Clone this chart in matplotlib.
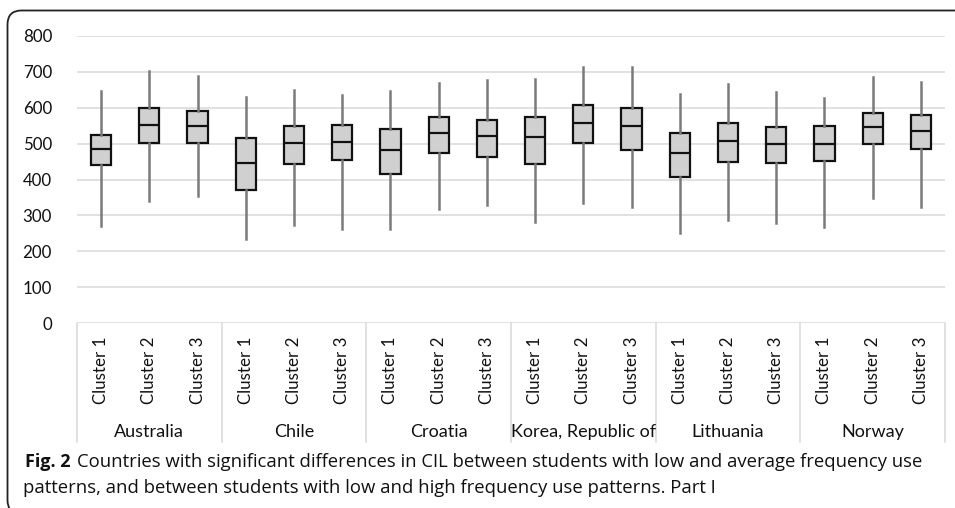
import matplotlib.pyplot as plt
import matplotlib.transforms as mtransforms
from matplotlib.patches import FancyBboxPatch
from matplotlib.lines import Line2D

countries = ['Australia', 'Chile', 'Croatia', 'Korea, Republic of', 'Lithuania', 'Norway']
clusters = ['Cluster 1', 'Cluster 2', 'Cluster 3']

# per box, in order Australia C1..C3, Chile C1..C3, ...
whisker_lo = [270, 341, 354, 235, 273, 263, 263, 319, 330, 282, 335, 324, 252, 288, 280, 268, 349, 324]
q1 = [441, 502, 503, 371, 444, 453, 415, 473, 463, 443, 501, 481, 407, 449, 446, 452, 499, 486]
median = [486, 553, 549, 446, 502, 505, 482, 530, 522, 518, 558, 550, 475, 508, 498, 500, 545, 536]
q3 = [525, 598, 592, 516, 549, 552, 542, 575, 567, 574, 608, 599, 530, 557, 546, 549, 586, 580]
whisker_hi = [647, 702, 688, 629, 649, 635, 646, 668, 676, 679, 713, 713, 637, 665, 643, 626, 685, 671]

W, H = 955, 508
fig = plt.figure(figsize=(W / 100, H / 100), dpi=100)
ax = fig.add_axes([77 / W, 1 - 323 / H, (945 - 77) / W, (323 - 36) / H])

stats = []
for i in range(len(q1)):
    stats.append({'whislo': whisker_lo[i], 'q1': q1[i], 'med': median[i],
                  'q3': q3[i], 'whishi': whisker_hi[i], 'fliers': []})

ax.bxp(stats, positions=range(len(stats)), widths=0.42, showcaps=False,
       patch_artist=True, showfliers=False,
       boxprops=dict(facecolor='#d0d0d0', edgecolor='#111111', linewidth=1.6),
       medianprops=dict(color='#111111', linewidth=1.6),
       whiskerprops=dict(color='#7a7a7a', linewidth=1.8))

ax.set_xlim(-0.5, len(stats) - 0.5)
ax.set_ylim(0, 800)
ax.set_yticks(range(0, 801, 100))
ax.yaxis.grid(True, color='#dcdcdc', linewidth=1.2)
ax.set_axisbelow(True)
ax.set_xticks([])
for s in ax.spines.values():
    s.set_visible(False)
ax.tick_params(axis='y', length=0, pad=18, labelsize=12.2, labelcolor='#111111')
for lab in ax.get_yticklabels():
    lab.set_fontfamily('Lato')

# category axis drawn by hand
trans = mtransforms.blended_transform_factory(ax.transData, fig.transFigure)
y_top = 1 - 323 / H
y_bot = 1 - 442 / H
for k in range(len(countries) + 1):
    xs = k * 3 - 0.5
    fig.add_artist(Line2D([xs, xs], [y_top, y_bot], transform=trans,
                          color='#dcdcdc', linewidth=1.2))

for i in range(len(stats)):
    fig.text(i, 1 - 337 / H, clusters[i % 3], transform=trans, rotation=90,
             ha='center', va='top', fontsize=12.2, family='Lato', color='#111111')

for k, c in enumerate(countries):
    fig.text(k * 3 + 1, 1 - 432 / H, c, transform=trans, ha='center', va='center',
             fontsize=13, family='Lato', color='#111111')

# caption
cap_bold = fig.text(25 / W, 1 - 462 / H, 'Fig. 2', fontsize=13, fontweight='bold',
                    va='center', ha='left', family='Open Sans', color='#111111')
fig.canvas.draw()
bb = cap_bold.get_window_extent()
fig.text((bb.x1 + 6) / W, 1 - 462 / H,
         'Countries with significant differences in CIL between students with low and average frequency use',
         fontsize=13.3, va='center', ha='left', family='Open Sans', color='#111111')
fig.text(23 / W, 1 - 488 / H,
         'patterns, and between students with low and high frequency use patterns. Part I',
         fontsize=13.3, va='center', ha='left', family='Open Sans', color='#111111')

# rounded frame
frame = FancyBboxPatch((7.5, -6), 1100, H - 10.5 + 6, boxstyle='round,pad=0,rounding_size=14',
                       transform=mtransforms.IdentityTransform(), fill=False,
                       edgecolor='#222222', linewidth=1.3)
fig.add_artist(frame)

fig.savefig('out.png', dpi=100)
